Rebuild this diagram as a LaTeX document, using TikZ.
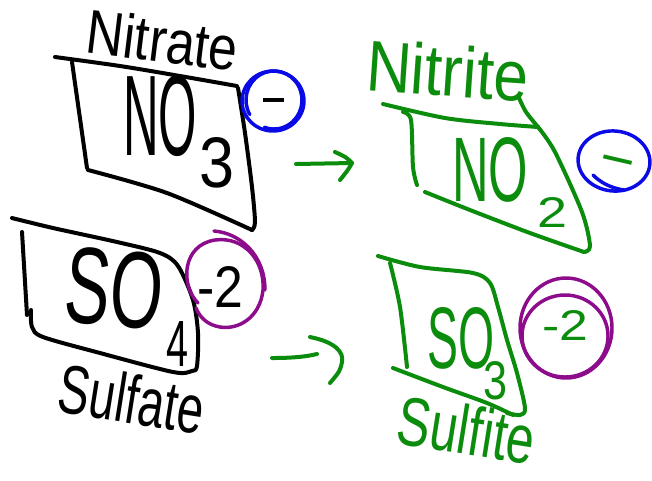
\documentclass[tikz,border=0pt]{standalone}
\usepackage{fontspec}
\usepackage{graphicx}
\newfontfamily\hand{Liberation Sans}
\newlength\pxu
\setlength\pxu{0.75pt}
% a word stretched to a given width and height (in pixel units)
\newcommand\hw[3]{\resizebox{#1\pxu}{#2\pxu}{\hand #3}}
\definecolor{inkgreen}{RGB}{12,140,12}
\definecolor{inkblue}{RGB}{10,10,230}
\definecolor{inkpurple}{RGB}{140,12,140}
\tikzset{
  ink/.style={line width=3pt,line cap=round,line join=round},
  thinink/.style={line width=2.6pt,line cap=round,line join=round},
  word/.style={inner sep=0pt,outer sep=0pt,anchor=base},
  dashword/.style={inner sep=0pt,outer sep=0pt,anchor=north},
}
\begin{document}
\begin{tikzpicture}[x=0.75pt,y=-0.75pt]
\useasboundingbox (0,0) rectangle (652,480);
\fill[white] (0,0) rectangle (652,480);

% ---------------- nitrate, NO3 (black)
\draw[ink] plot[smooth] coordinates {(55,57) (120,66) (180,76) (237,86)};
\draw[ink] (72,62) -- (87,168);
\draw[ink] plot[smooth] coordinates {(238,88) (245,133) (252,187) (255,222) (252,230)};
\draw[ink] plot[smooth] coordinates {(88,170) (167,193) (252,230)};
\node[word,rotate=-7] (nitrate) at (160,62) {\hw{152}{45}{Nitrate}};
\node[word] (no) at (160,155) {\hw{74}{80}{NO}};
\node[word] (three) at (217,187) {\hw{35}{50}{3}};

% charge of nitrate (blue ring, black sign)
\draw[thinink,inkblue] (273,101) ellipse [x radius=31,y radius=30];
\draw[thinink,inkblue] (274,100) ++(150:28 and 29) arc[start angle=150,end angle=470,x radius=28,y radius=29];
\node[dashword] (chA) at (274,98) {\resizebox{21\pxu}{17\pxu}{\hand –}};

% ---------------- nitrite, NO2 (green)
\draw[ink,inkgreen] plot[smooth] coordinates {(383,104) (445,118) (500,124) (538,127)};
\draw[ink,inkgreen] plot[smooth] coordinates {(519,98) (526,112) (538,127)};
\draw[ink,inkgreen] plot[smooth] coordinates {(403,112) (411,120) (413,167) (417,185)};
\draw[ink,inkgreen] plot[smooth] coordinates {(538,127) (555,152) (582,212) (590,246) (584,252)};
\draw[ink,inkgreen] plot[smooth] coordinates {(425,192) (470,210) (530,233) (584,252)};
\node[word,rotate=-4,text=inkgreen] (nitrite) at (446,96) {\hw{162}{52}{Nitrite}};
\node[word,text=inkgreen] (noB) at (490,201) {\hw{76}{64}{NO}};
\node[word,text=inkgreen] (two) at (552,227) {\hw{30}{30}{2}};

% charge of nitrite (blue ring, green sign)
\begin{scope}[shift={(614,161)},rotate=-6]
  \draw[thinink,inkblue] (0,0) ellipse [x radius=36,y radius=30];
\end{scope}
\draw[thinink,inkblue] (593,175) .. controls (600,182) and (610,188) .. (624,190);
\node[dashword,text=inkgreen,rotate=-13] (chB) at (618,158) {\resizebox{29\pxu}{17\pxu}{\hand –}};

% ---------------- sulfate, SO4 (black)
\draw[ink] plot[smooth] coordinates {(12,218) (53,228) (117,242) (160,253) (178,266) (193,300) (198,333) (197,366) (192,371) (173,372) (100,353) (43,337) (32,327) (31,310)};
\draw[ink] (22,232) -- (27,315);
\node[word,rotate=-5] (so) at (111,326) {\hw{98}{76}{SO}};
\node[word] (four) at (177,366) {\hw{22}{45}{4}};
\node[word,rotate=-9] (sulfate) at (128,423) {\hw{146}{50}{Sulfate}};

% charge of sulfate (purple ring, black sign)
\draw[thinink,inkpurple] (198,303) .. controls (180,285) and (182,245) .. (215,240)
  .. controls (245,236) and (265,262) .. (263,290)
  .. controls (260,318) and (238,330) .. (220,327)
  .. controls (208,325) and (200,318) .. (196,308);
\draw[thinink,inkpurple] (214,231) .. controls (240,233) and (265,255) .. (265,290);
\node[word] (chC) at (220,307) {\hw{46}{41}{-2}};

% ---------------- sulfite, SO3 (green)
\draw[ink,inkgreen] plot[smooth] coordinates {(378,256) (420,267) (473,273) (490,283) (498,307) (507,340) (517,373) (525,408) (520,415) (507,413)};
\draw[ink,inkgreen] plot[smooth] coordinates {(393,368) (443,387) (487,403) (513,415)};
\draw[ink,inkgreen] plot[smooth] coordinates {(390,263) (400,307) (407,367)};
\node[word,text=inkgreen] (soB) at (461,368) {\hw{67}{61}{SO}};
\node[word,text=inkgreen] (threeB) at (495,399) {\hw{24}{38}{3}};
\node[word,rotate=-9,text=inkgreen] (sulfite) at (463,454) {\hw{138}{50}{Sulfite}};

% charge of sulfite (purple ring, green sign)
\draw[thinink,inkpurple] (566,328) ellipse [x radius=46,y radius=50];
\draw[thinink,inkpurple] (565,336) ellipse [x radius=43,y radius=41];
\node[word,text=inkgreen] (chD) at (565,340) {\hw{46}{30}{-2}};

% ---------------- reaction arrows (green)
\coordinate (r1s) at (296,164);
\coordinate (r1e) at (352,163);
\coordinate (r1a) at (335,152);
\coordinate (r1b) at (340,180);
\draw[ink,inkgreen] (r1s) -- (r1e);
\draw[ink,inkgreen] (r1a) .. controls (346,157) .. (r1e) .. controls (348,170) .. (r1b);

\coordinate (r2s) at (272,358);
\coordinate (r2e) at (317,354);
\coordinate (r2a) at (310,337);
\coordinate (r2t) at (342,362);
\coordinate (r2b) at (330,383);
\draw[ink,inkgreen] (r2s) .. controls (290,358) and (305,357) .. (r2e);
\draw[ink,inkgreen] (r2a) .. controls (335,342) and (344,352) .. (r2t) .. controls (340,371) .. (r2b);
\end{tikzpicture}
\end{document}
